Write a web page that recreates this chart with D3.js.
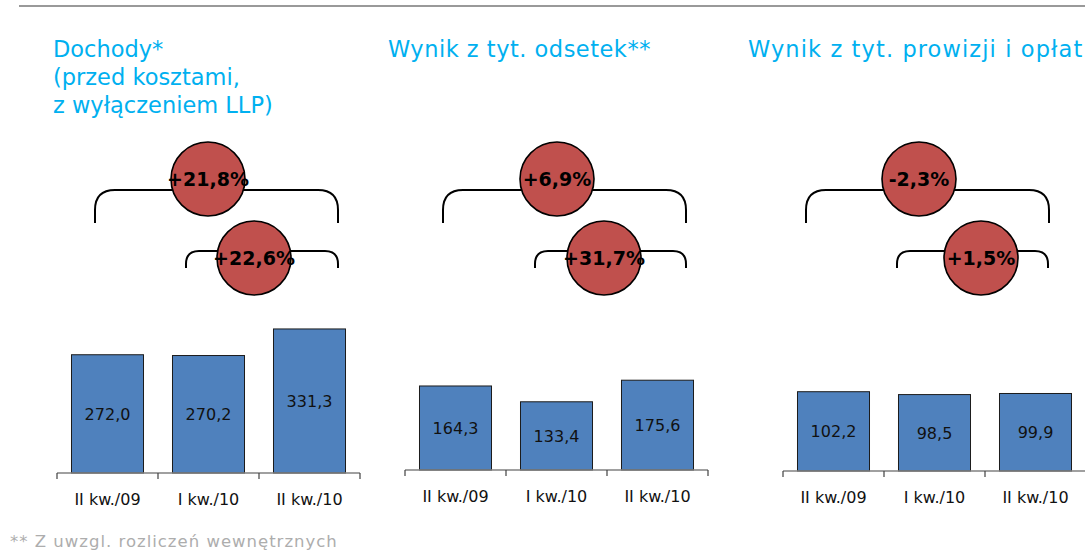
<!DOCTYPE html>
<html>
<head>
<meta charset="utf-8">
<title>Wyniki kwartalne</title>
<script src="https://d3js.org/d3.v7.min.js"></script>
<style>
  body { margin: 0; background: #fff; }
  svg { display: block; font-family: "DejaVu Sans", sans-serif; }
</style>
</head>
<body>
<script>
// data
var categories = ["II kw./09", "I kw./10", "II kw./10"];
var titles = [
  ["Dochody*", "(przed kosztami,", "z wyłączeniem LLP)"],
  ["Wynik z tyt. odsetek**"],
  ["Wynik z tyt. prowizji i opłat"]
];
var dochody = [272.0, 270.2, 331.3];
var odsetki = [164.3, 133.4, 175.6];
var prowizje = [102.2, 98.5, 99.9];
var changeYear = ["+21,8%", "+6,9%", "-2,3%"];     // II kw./10 vs II kw./09
var changeQuarter = ["+22,6%", "+31,7%", "+1,5%"]; // II kw./10 vs I kw./10
var footnote = "** Z uwzgl. rozliczeń wewnętrznych";

var series = [dochody, odsetki, prowizje];
var yMax = [414, 352, 232]; // each panel has its own scale

// layout
var W = 1085, H = 560;
var panelX = [57, 405, 783];
var baseY = [473, 470, 471];
var plotH = 180, axisW = 303;
// bracket offsets (from panel left) : [left, right, circle x]
var bigBr = [[38, 281, 151], [38, 281, 152], [23, 266, 136]];
var smallBr = [[129, 281, 197], [130, 281, 199], [114, 265, 198]];
var titleX = [53, 388, 748];
var titleSpacing = [0, 0.5, 1.1];

var blue = "#00B0F0", barFill = "#4F81BD", red = "#C0504D";

var svg = d3.select("body").append("svg")
  .attr("width", W).attr("height", H);

// header line
svg.append("line")
  .attr("x1", 19).attr("x2", W).attr("y1", 6).attr("y2", 6)
  .attr("stroke", "#999").attr("stroke-width", 2);

function bracket(x1, x2, top, bottom, r) {
  var p = d3.path();
  p.moveTo(x1, bottom);
  p.lineTo(x1, top + r);
  p.quadraticCurveTo(x1, top, x1 + r, top);
  p.lineTo(x2 - r, top);
  p.quadraticCurveTo(x2, top, x2, top + r);
  p.lineTo(x2, bottom);
  return p.toString();
}

series.forEach(function(vals, i) {
  var g = svg.append("g");
  var x0 = panelX[i];

  var x = d3.scaleBand().domain(categories)
    .range([x0, x0 + axisW]).paddingInner(0.287).paddingOuter(0.1435);
  var y = d3.scaleLinear().domain([0, yMax[i]])
    .range([baseY[i], baseY[i] - plotH]);

  // title
  var t = g.append("text")
    .attr("x", titleX[i]).attr("y", 57)
    .attr("fill", blue).attr("font-size", 22.5)
    .attr("letter-spacing", titleSpacing[i]);
  titles[i].forEach(function(line, k) {
    t.append("tspan").attr("x", titleX[i]).attr("dy", k ? 28 : 0).text(line);
  });

  // bars
  g.selectAll("rect.bar").data(vals).join("rect")
    .attr("class", "bar")
    .attr("x", function(d, k) { return x(categories[k]); })
    .attr("width", x.bandwidth())
    .attr("y", function(d) { return y(d); })
    .attr("height", function(d) { return y(0) - y(d); })
    .attr("fill", barFill)
    .attr("stroke", "#1c1c1c").attr("stroke-width", 1);

  g.selectAll("text.val").data(vals).join("text")
    .attr("class", "val")
    .attr("x", function(d, k) { return x(categories[k]) + x.bandwidth() / 2; })
    .attr("y", function(d) { return (y(d) + y(0)) / 2; })
    .attr("dy", "0.36em")
    .attr("text-anchor", "middle")
    .attr("font-size", 16).attr("fill", "#111")
    .text(function(d) { return d3.format(".1f")(d).replace(".", ","); });

  // axis: line plus ticks at band edges
  var ax = g.append("g").attr("transform", "translate(0," + baseY[i] + ")");
  ax.append("line").attr("x1", x0).attr("x2", x0 + axisW)
    .attr("stroke", "#808080").attr("stroke-width", 1.5);
  var step = x.step();
  ax.selectAll("line.tick").data(d3.range(categories.length + 1)).join("line")
    .attr("class", "tick")
    .attr("x1", function(k) { return x0 + k * step; })
    .attr("x2", function(k) { return x0 + k * step; })
    .attr("y1", 0).attr("y2", 6)
    .attr("stroke", "#404040").attr("stroke-width", 1.2);
  ax.selectAll("text").data(categories).join("text")
    .attr("x", function(d) { return x(d) + x.bandwidth() / 2; })
    .attr("y", 32)
    .attr("text-anchor", "middle")
    .attr("font-size", 16).attr("fill", "#111")
    .text(function(d) { return d; });

  // brackets with change circles
  var specs = [
    { br: bigBr[i], top: 190, bottom: 223, r: 20, cy: 179, label: changeYear[i] },
    { br: smallBr[i], top: 251, bottom: 268, r: 13, cy: 258, label: changeQuarter[i] }
  ];
  specs.forEach(function(s) {
    g.append("path")
      .attr("d", bracket(x0 + s.br[0], x0 + s.br[1], s.top, s.bottom, s.r))
      .attr("fill", "none").attr("stroke", "#000").attr("stroke-width", 2);
    g.append("circle")
      .attr("cx", x0 + s.br[2]).attr("cy", s.cy).attr("r", 37)
      .attr("fill", red).attr("stroke", "#000").attr("stroke-width", 1.6);
    g.append("text")
      .attr("x", x0 + s.br[2]).attr("y", s.cy)
      .attr("dy", "0.36em").attr("text-anchor", "middle")
      .attr("font-size", 19).attr("font-weight", "bold").attr("fill", "#000")
      .text(s.label);
  });
});

svg.append("text")
  .attr("x", 10).attr("y", 547)
  .attr("font-size", 16.5).attr("letter-spacing", 1).attr("fill", "#ADADAD")
  .text(footnote);
</script>
</body>
</html>
